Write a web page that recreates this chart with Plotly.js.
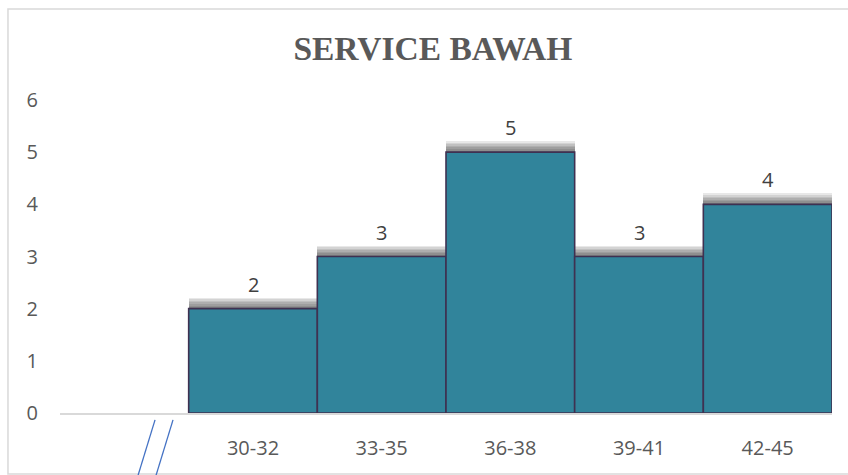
<!DOCTYPE html>
<html>
<head>
<meta charset="utf-8">
<script src="https://cdn.plot.ly/plotly-3.0.1.min.js"></script>
<style>html,body{margin:0;padding:0;background:#fff;}#chart{width:848px;height:475px;}</style>
</head>
<body>
<div id="chart"></div>
<script>
// Data
const categories = [' ', '30-32', '33-35', '36-38', '39-41', '42-45'];
const counts = [null, 2, 3, 5, 3, 4];
const yTickValues = [0, 1, 2, 3, 4, 5, 6];
const chartTitle = 'SERVICE BAWAH';

const barColor = '#31849B';
const edgeColor = '#3F3151';
const labelFont = {family: 'Open Sans, sans-serif', size: 20, color: '#404040'};
const tickFont = {family: 'Open Sans, sans-serif', size: 20, color: '#595959'};

// soft shadow layers above each bar top
const shadowLayers = [0.21, 0.18, 0.15, 0.12, 0.09, 0.06, 0.03];
const traces = shadowLayers.map(h => ({
  type: 'bar',
  x: categories,
  y: counts.map(v => v === null ? null : h),
  base: counts.map(v => v === null ? null : v),
  marker: {color: 'rgba(0,0,0,0.09)', line: {width: 0}},
  hoverinfo: 'skip',
  showlegend: false
}));

traces.push({
  type: 'bar',
  x: categories,
  y: counts,
  marker: {color: barColor, line: {color: edgeColor, width: 1.6}},
  hoverinfo: 'skip',
  showlegend: false
});

const annotations = categories.map((c, i) => counts[i] === null ? null : ({
  x: c, y: counts[i], xref: 'x', yref: 'y',
  text: String(counts[i]), showarrow: false,
  yanchor: 'bottom', yshift: 9, font: labelFont
})).filter(a => a);

const layout = {
  width: 848, height: 475,
  margin: {l: 60, r: 16, t: 100, b: 62},
  paper_bgcolor: '#ffffff', plot_bgcolor: '#ffffff',
  title: {
    text: '<b>' + chartTitle + '</b>',
    font: {family: 'Liberation Serif, Times New Roman, serif', size: 33.5, color: '#595959'},
    x: 0.483, xanchor: 'center', y: 0.898, yanchor: 'middle', xref: 'paper', yref: 'container'
  },
  barmode: 'overlay',
  bargap: 0,
  xaxis: {
    type: 'category',
    categoryorder: 'array', categoryarray: categories,
    showgrid: false, zeroline: false,
    showline: true, linecolor: '#D9D9D9', linewidth: 1.5,
    ticks: '', tickfont: tickFont, ticklabelstandoff: 16,
    fixedrange: true
  },
  yaxis: {
    range: [0, 6], tickvals: yTickValues,
    showgrid: false, zeroline: false, showline: false,
    ticks: '', tickfont: tickFont, ticklabelstandoff: 21,
    fixedrange: true
  },
  annotations: annotations,
  shapes: [
    // chart border
    {type: 'rect', xref: 'paper', yref: 'paper', x0: -0.0674, x1: 1.1, y0: -0.195, y1: 1.291,
     line: {color: '#D9D9D9', width: 1.5}, fillcolor: 'rgba(0,0,0,0)', layer: 'below'},
    // axis break marks
    {type: 'line', xref: 'paper', yref: 'paper', x0: 0.1231, y0: -0.022, x1: 0.1010, y1: -0.2,
     line: {color: '#4472C4', width: 1.3}},
    {type: 'line', xref: 'paper', yref: 'paper', x0: 0.1464, y0: -0.022, x1: 0.1243, y1: -0.2,
     line: {color: '#4472C4', width: 1.3}}
  ]
};

Plotly.newPlot('chart', traces, layout, {displayModeBar: false, staticPlot: true});
</script>
</body>
</html>
